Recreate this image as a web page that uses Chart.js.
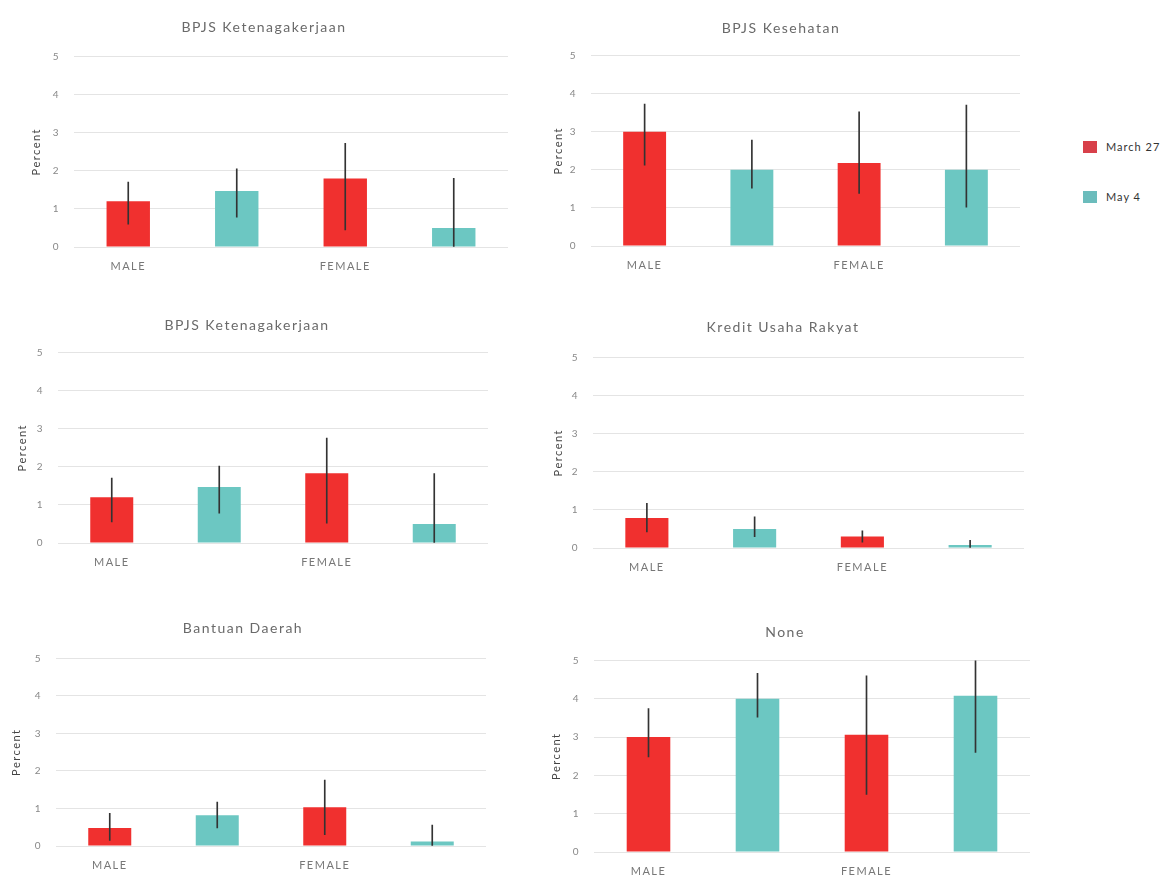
<!DOCTYPE html>
<html>
<head>
<meta charset="utf-8">
<script src="https://cdn.jsdelivr.net/npm/chart.js@4/dist/chart.umd.min.js"></script>
<style>
  body { margin: 0; background: #fff; width: 1175px; height: 877px; position: relative; overflow: hidden; font-family: Lato, "Open Sans", sans-serif; }
  canvas { position: absolute; }
  .legend { position: absolute; left: 1083px; font-size: 11px; color: #333; display: flex; align-items: center; letter-spacing: 1px; }
  .legend span { display: inline-block; width: 14px; height: 12px; margin-right: 9px; }
</style>
</head>
<body>
<div class="legend" style="top:140px"><span style="background:#d8404a"></span>March 27</div>
<div class="legend" style="top:190px"><span style="background:#6bbcbc"></span>May 4</div>
<script>
// categories: one bar per gender / period pair
const categories = ['MALE', '', 'FEMALE', ''];
const periods = ['March 27', 'May 4'];
const yTicks = [0, 1, 2, 3, 4, 5];

// BPJS Ketenagakerjaan (top)
const ketenagakerjaanMean = [1.2, 1.47, 1.8, 0.5];
const ketenagakerjaanLow = [0.6, 0.78, 0.45, 0];
const ketenagakerjaanHigh = [1.7, 2.05, 2.72, 1.8];

// BPJS Kesehatan
const kesehatanMean = [3.0, 2.0, 2.18, 2.0];
const kesehatanLow = [2.12, 1.52, 1.38, 1.02];
const kesehatanHigh = [3.72, 2.78, 3.52, 3.7];

// BPJS Ketenagakerjaan (middle)
const ketenagakerjaan2Mean = [1.2, 1.47, 1.83, 0.5];
const ketenagakerjaan2Low = [0.55, 0.78, 0.52, 0];
const ketenagakerjaan2High = [1.7, 2.02, 2.75, 1.82];

// Kredit Usaha Rakyat
const kurMean = [0.79, 0.5, 0.3, 0.08];
const kurLow = [0.42, 0.3, 0.15, 0];
const kurHigh = [1.17, 0.82, 0.45, 0.2];

// Bantuan Daerah
const daerahMean = [0.48, 0.82, 1.03, 0.12];
const daerahLow = [0.15, 0.48, 0.3, 0];
const daerahHigh = [0.87, 1.17, 1.76, 0.56];

// None
const noneMean = [3.0, 4.0, 3.06, 4.08];
const noneLow = [2.48, 3.52, 1.5, 2.6];
const noneHigh = [3.74, 4.66, 4.6, 5.0];

const RED = '#f0302f';
const TEAL = '#6cc7c2';
const barColors = categories.map((c, i) => i % 2 === 0 ? RED : TEAL);

const panels = [
  { title: 'BPJS Ketenagakerjaan', mean: ketenagakerjaanMean, low: ketenagakerjaanLow, high: ketenagakerjaanHigh,
    box: { left: 20, width: 488, ty: 27, y5: 56, y0: 247, yw: 54 } },
  { title: 'BPJS Kesehatan', mean: kesehatanMean, low: kesehatanLow, high: kesehatanHigh,
    box: { left: 542, width: 478, ty: 28, y5: 55, y0: 246, yw: 49 } },
  { title: 'BPJS Ketenagakerjaan', mean: ketenagakerjaan2Mean, low: ketenagakerjaan2Low, high: ketenagakerjaan2High,
    box: { left: 6, width: 482, ty: 325, y5: 352, y0: 543, yw: 52 } },
  { title: 'Kredit Usaha Rakyat', mean: kurMean, low: kurLow, high: kurHigh,
    box: { left: 542, width: 482, ty: 327, y5: 357, y0: 548, yw: 51 } },
  { title: 'Bantuan Daerah', mean: daerahMean, low: daerahLow, high: daerahHigh,
    box: { left: 0, width: 486, ty: 628, y5: 658, y0: 846, yw: 56 } },
  { title: 'None', mean: noneMean, low: noneLow, high: noneHigh,
    box: { left: 540, width: 490, ty: 632, y5: 660, y0: 852, yw: 54 } }
];

const TITLE_SIZE = 14;
const XAXIS_H = 34;

// the reference text is loosely spaced
const spacing = {
  id: 'spacing',
  beforeUpdate: chart => { chart.ctx.letterSpacing = '1.5px'; },
  beforeDraw: chart => { chart.ctx.letterSpacing = '1.5px'; }
};

panels.forEach(p => {
  const b = p.box;
  const half = TITLE_SIZE * 1.2 / 2;
  const top = b.ty - half;
  const canvas = document.createElement('canvas');
  canvas.width = b.width;
  canvas.height = Math.round(b.y0 + XAXIS_H - top);
  canvas.style.left = b.left + 'px';
  canvas.style.top = top + 'px';
  document.body.appendChild(canvas);

  new Chart(canvas, {
    type: 'bar',
    plugins: [spacing],
    data: {
      labels: categories,
      datasets: [
        {
          label: 'error',
          data: p.low.map((lo, i) => [lo, Math.min(p.high[i], 5)]),
          backgroundColor: '#333',
          barThickness: 1,
          grouped: false,
          order: 0
        },
        {
          label: periods.join(' / '),
          data: p.mean,
          backgroundColor: barColors,
          categoryPercentage: 0.8,
          barPercentage: 0.5,
          order: 1
        }
      ]
    },
    options: {
      responsive: false,
      animation: false,
      layout: { padding: 0 },
      plugins: {
        legend: { display: false },
        tooltip: { enabled: false },
        title: {
          display: true,
          text: p.title,
          color: '#6a6a6a',
          font: { family: 'Lato', size: TITLE_SIZE, weight: 'normal' },
          padding: { top: 0, bottom: b.y5 - b.ty - half }
        }
      },
      scales: {
        x: {
          grid: { display: false, drawTicks: false },
          border: { display: false },
          ticks: { color: '#777', font: { family: 'Lato', size: 11 }, padding: 13, maxRotation: 0, autoSkip: false },
          afterFit: s => { s.height = XAXIS_H; }
        },
        y: {
          min: 0,
          max: 5,
          afterBuildTicks: s => { s.ticks = yTicks.map(v => ({ value: v })); },
          grid: { color: '#e4e4e4', drawTicks: false },
          border: { display: false },
          ticks: { color: '#888', font: { family: 'Lato', size: 10 }, padding: 14 },
          title: { display: true, text: 'Percent', color: '#444', font: { family: 'Lato', size: 11 }, padding: { top: 10, bottom: 0 } },
          afterFit: s => { s.width = b.yw; }
        }
      }
    }
  });
});
</script>
</body>
</html>
